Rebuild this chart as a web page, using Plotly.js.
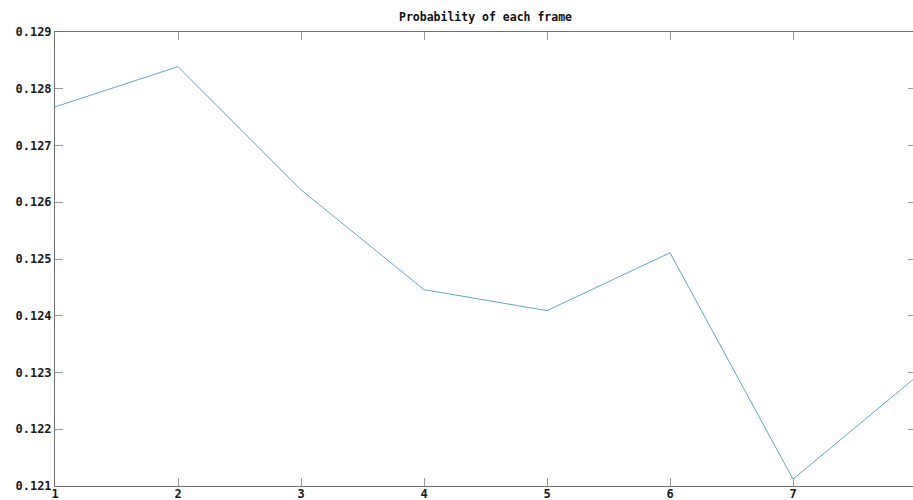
<!DOCTYPE html>
<html>
<head>
<meta charset="utf-8">
<script src="https://cdn.plot.ly/plotly-3.0.1.min.js"></script>
<style>
  html, body { margin: 0; padding: 0; overflow: hidden; background: #fff; }
  #chart { width: 920px; height: 500px; }
</style>
</head>
<body>
<div id="chart"></div>
<script>
// Frame indices and the probability assigned to each frame
const frames = [1, 2, 3, 4, 5, 6, 7, 8];
const probability = [0.12768, 0.12839, 0.12622, 0.12446, 0.12409, 0.12511, 0.12112, 0.12292];

const xTicks = [1, 2, 3, 4, 5, 6, 7, 8];
const yTicks = [0.121, 0.122, 0.123, 0.124, 0.125, 0.126, 0.127, 0.128, 0.129];
const yTickText = ['0.121', '0.122', '0.123', '0.124', '0.125', '0.126', '0.127', '0.128', '0.129'];

const mono = 'DejaVu Sans Mono, monospace';

const trace = {
  x: frames,
  y: probability,
  type: 'scatter',
  mode: 'lines',
  line: { color: '#62a8cb', width: 1 },
  hoverinfo: 'x+y'
};

const axisCommon = {
  showgrid: false,
  zeroline: false,
  showline: true,
  linecolor: '#707070',
  linewidth: 1,
  mirror: 'ticks',
  ticks: 'inside',
  ticklen: 8,
  tickcolor: '#9a9a9a',
  tickwidth: 1,
  tickfont: { family: mono, size: 12, color: '#1a1a1a', weight: 'bold' }
};

const layout = {
  width: 920,
  height: 500,
  margin: { l: 55, r: 4, t: 32, b: 14, pad: 0 },
  paper_bgcolor: '#fff',
  plot_bgcolor: '#fff',
  showlegend: false,
  title: {
    text: 'Probability of each frame',
    font: { family: mono, size: 11.5, color: '#111', weight: 'bold' },
    x: 0.5,
    xref: 'paper',
    y: 1 - 17 / 500,
    yanchor: 'middle'
  },
  xaxis: Object.assign({}, axisCommon, {
    range: [1, 8],
    tickmode: 'array',
    tickvals: xTicks,
    ticktext: xTicks.map(String),
    ticklabelstandoff: -3
  }),
  yaxis: Object.assign({}, axisCommon, {
    range: [0.121, 0.129],
    tickmode: 'array',
    tickvals: yTicks,
    ticktext: yTickText
  })
};

Plotly.newPlot('chart', [trace], layout, { displayModeBar: false, staticPlot: true });
</script>
</body>
</html>
